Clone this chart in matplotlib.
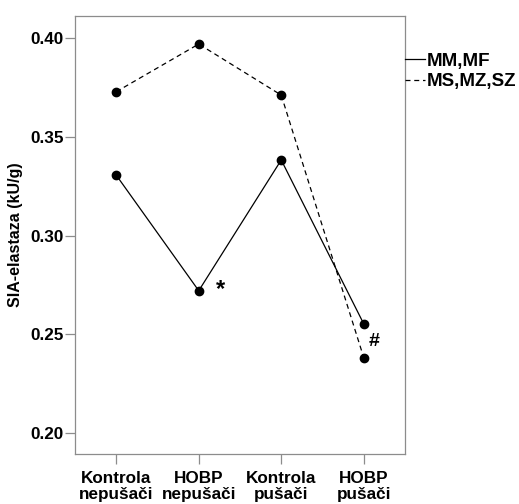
import matplotlib
matplotlib.use("Agg")
import matplotlib.pyplot as plt

plt.rcParams.update({
    "font.family": ["Liberation Sans", "DejaVu Sans"],
    "font.weight": "bold",
    "font.size": 12.3,
})

groups = ["Kontrola\nnepušači", "HOBP\nnepušači", "Kontrola\npušači", "HOBP\npušači"]
mm_mf = [0.3306, 0.2720, 0.3383, 0.2552]
ms_mz_sz = [0.3729, 0.3971, 0.3712, 0.2381]
yticks = [0.20, 0.25, 0.30, 0.35, 0.40]

fig = plt.figure(figsize=(5.19, 5.04), dpi=100)
ax = fig.add_axes([0.1445, 0.0992, 0.6358, 0.869])

x = range(len(groups))
ax.plot(x, mm_mf, color="black", linewidth=0.9, marker="o", markersize=6,
        label="MM,MF")
ax.plot(x, ms_mz_sz, color="black", linewidth=0.9, linestyle=(0, (4, 3)),
        marker="o", markersize=6, label="MS,MZ,SZ")

# significance marks
ax.text(1.26, 0.2725, "*", fontsize=17, ha="center", va="center")
ax.text(3.12, 0.2463, "#", fontsize=14, ha="center", va="center")

ax.set_xlim(-0.5, 3.5)
ax.set_ylim(0.1892, 0.4113)
ax.set_xticks(list(x))
ax.set_xticklabels(groups, linespacing=1.12)
ax.set_yticks(yticks)
ax.set_yticklabels([f"{v:.2f}" for v in yticks])
ax.set_ylabel("SIA-elastaza (kU/g)", fontweight="bold", fontsize=11.5, labelpad=5)

for s in ax.spines.values():
    s.set_color("#8c8c8c")
    s.set_linewidth(0.9)
ax.tick_params(axis="both", colors="#8c8c8c", labelcolor="black", width=0.9)
ax.tick_params(axis="y", length=7, pad=1)
ax.tick_params(axis="x", length=7, pad=5)

leg = ax.legend(loc="upper left", bbox_to_anchor=(1.0, 0.917), frameon=False,
                fontsize=13.5, handlelength=1.05, handletextpad=0.1,
                labelspacing=0.2, borderaxespad=0, borderpad=0)
for h in leg.legend_handles:
    h.set_marker("")

fig.savefig("out.png", dpi=100, facecolor="white")
